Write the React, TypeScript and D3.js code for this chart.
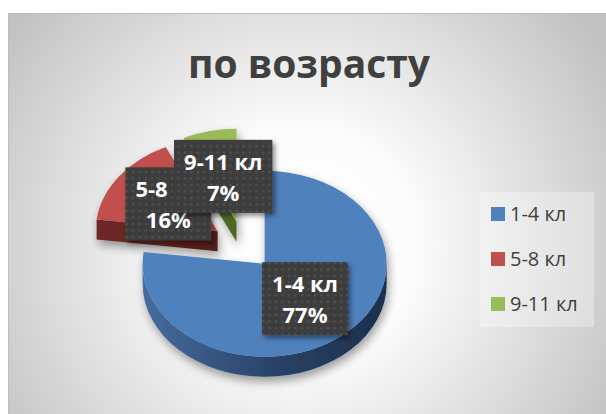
import React from "react";
import * as d3 from "d3";

const categories = ["1-4 кл", "5-8 кл", "9-11 кл"];
const values = [77, 16, 7];
const topColors = ["#4f81bd", "#c0504d", "#9bbb59"];
const sideFrom = ["#466c9f", "#702826", "#5f7e30"];
const sideTo = ["#1c304d", "#461414", "#45591f"];
const titleText = "по возрасту";

const W = 606;
const H = 414;
const CX = 243.5;
const CY = 245.5;
const RX = 122;
const RY = 93;
const DEPTH = 20;
const EXPLODE = 0.262;
const LABEL_FONT_SIZE = 22;

type P = [number, number];
const pt = (cx: number, cy: number, a: number, f = 1): P => [
  cx + RX * f * Math.sin(a),
  cy - RY * f * Math.cos(a),
];
const s = (p: P, dy = 0) => `${p[0].toFixed(2)},${(p[1] + dy).toFixed(2)}`;

let ctx: CanvasRenderingContext2D | null = null;
function measure(t: string, font: string) {
  if (!ctx) ctx = document.createElement("canvas").getContext("2d");
  if (!ctx) return t.length * 11;
  ctx.font = font;
  return ctx.measureText(t).width;
}

export default function App() {
  const pie = d3.pie<number>().sort(null).value((d) => d)(values);
  const total = d3.sum(values);

  const slices = pie.map((p, i) => {
    const a0 = p.startAngle;
    const a1 = p.endAngle;
    const mid = (a0 + a1) / 2;
    const [cx, cy] = pt(CX, CY, mid, EXPLODE);
    const c: P = [cx, cy];
    const large = a1 - a0 > Math.PI ? 1 : 0;
    const top = `M${s(c)} L${s(pt(cx, cy, a0))} A${RX},${RY} 0 ${large} 1 ${s(pt(cx, cy, a1))} Z`;
    let outer = "";
    const ts = Math.max(a0, Math.PI / 2);
    const te = Math.min(a1, (3 * Math.PI) / 2);
    if (te > ts) {
      const ps = pt(cx, cy, ts);
      const pe = pt(cx, cy, te);
      outer = `M${s(ps)} A${RX},${RY} 0 0 1 ${s(pe)} L${s(pe, DEPTH)} A${RX},${RY} 0 0 0 ${s(ps, DEPTH)} Z`;
    }
    let startFace = "";
    if (Math.sin(a0) < -1e-6) {
      const p0 = pt(cx, cy, a0);
      startFace = `M${s(c)} L${s(p0)} L${s(p0, DEPTH)} L${s(c, DEPTH)} Z`;
    }
    let endFace = "";
    if (Math.sin(a1) > 1e-6) {
      const p1 = pt(cx, cy, a1);
      endFace = `M${s(c)} L${s(p1)} L${s(p1, DEPTH)} L${s(c, DEPTH)} Z`;
    }
    const lab = pt(cx, cy, mid, 0.5);
    const pct = Math.round((values[i] / total) * 100) + "%";
    return { i, top, outer, startFace, endFace, lab, pct, cx, cy };
  });

  const drawOrder = [...slices].sort((a, b) => a.cy - b.cy);

  const labelFont = `bold ${LABEL_FONT_SIZE}px "Open Sans"`;

  return (
    <svg
      width={W}
      height={H}
      style={{ position: "absolute", left: 0, top: 0 }}
      fontFamily='"Open Sans", sans-serif'
    >
      <defs>
        <radialGradient id="bg" gradientUnits="userSpaceOnUse" cx={300} cy={245} r={360}>
          <stop offset="0" stopColor="#ffffff" />
          <stop offset="0.32" stopColor="#fcfcfc" />
          <stop offset="1" stopColor="#c2c2c2" />
        </radialGradient>
        {slices.map((sl) => (
          <linearGradient
            key={sl.i}
            id={`side${sl.i}`}
            gradientUnits="userSpaceOnUse"
            x1={sl.cx - RX}
            x2={sl.cx + RX}
            y1={0}
            y2={0}
          >
            <stop offset="0" stopColor={sideFrom[sl.i]} />
            <stop offset="0.55" stopColor={d3.interpolateRgb(sideFrom[sl.i], sideTo[sl.i])(0.7)} />
            <stop offset="1" stopColor={sideTo[sl.i]} />
          </linearGradient>
        ))}
        <pattern id="dots" width={6.5} height={6.5} patternUnits="userSpaceOnUse">
          <rect width={6.5} height={6.5} fill="#3d3d3d" />
          <rect x={2} y={2} width={2} height={2} fill="#555555" />
        </pattern>
        <filter id="pieShadow" x="-30%" y="-30%" width="160%" height="170%">
          <feDropShadow dx="2" dy="5" stdDeviation="5" floodColor="#000" floodOpacity="0.38" />
        </filter>
        <filter id="labShadow" x="-20%" y="-20%" width="150%" height="150%">
          <feDropShadow dx="2.5" dy="3" stdDeviation="2.5" floodColor="#000" floodOpacity="0.45" />
        </filter>
      </defs>

      <rect x={8.5} y={13.5} width={W} height={H} fill="url(#bg)" stroke="#bdbdbd" />

      <text x={309} y={78} textAnchor="middle" fontSize={39} fontWeight="bold" fill="#404040">
        {titleText}
      </text>

      {drawOrder.map((sl) => (
        <g key={sl.i} filter="url(#pieShadow)">
          {sl.outer && <path d={sl.outer} fill={`url(#side${sl.i})`} />}
          {sl.startFace && <path d={sl.startFace} fill={`url(#side${sl.i})`} />}
          {sl.endFace && <path d={sl.endFace} fill={`url(#side${sl.i})`} />}
          <path d={sl.top} fill={topColors[sl.i]} />
        </g>
      ))}

      {slices.map((sl) => {
        const line1 = categories[sl.i];
        const w = Math.max(measure(line1, labelFont), measure(sl.pct, labelFont)) + 20;
        const h = 73;
        const x0 = sl.lab[0] - w / 2;
        const y0 = sl.lab[1] - h / 2;
        return (
          <g key={sl.i}>
            <rect x={x0} y={y0} width={w} height={h} fill="url(#dots)" filter="url(#labShadow)" />
            <text textAnchor="middle" fontSize={LABEL_FONT_SIZE} fontWeight="bold" fill="#ffffff">
              <tspan x={sl.lab[0]} y={y0 + 30}>{line1}</tspan>
              <tspan x={sl.lab[0]} y={y0 + 61}>{sl.pct}</tspan>
            </text>
          </g>
        );
      })}

      <rect x={480} y={192} width={114} height={135} fill="#ffffff" fillOpacity={0.3} />
      {categories.map((c, i) => (
        <g key={c}>
          <rect x={491} y={207 + i * 45} width={14} height={14} fill={topColors[i]} />
          <text x={510} y={221 + i * 45} fontSize={20} fill="#404040">
            {c}
          </text>
        </g>
      ))}
    </svg>
  );
}
